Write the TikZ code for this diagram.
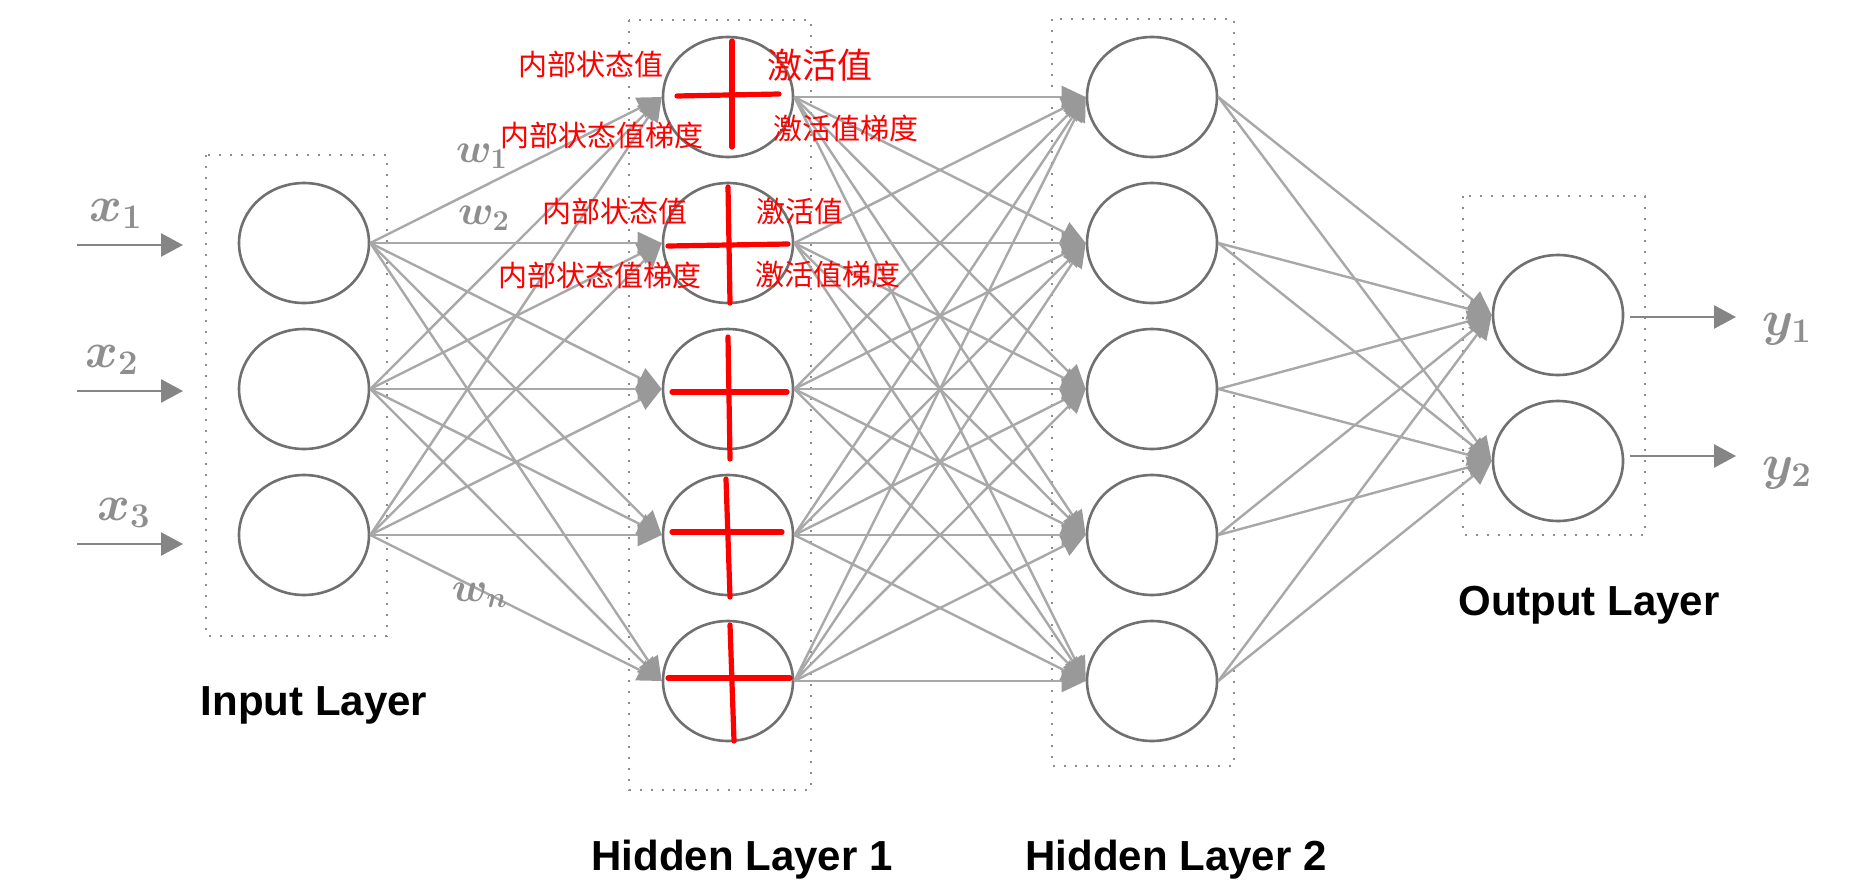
\documentclass[tikz,border=0pt]{standalone}
\usepackage{fontspec}
\setmainfont{Liberation Sans}
\newfontfamily\cjk{Noto Sans CJK SC}
\usetikzlibrary{arrows.meta,shapes.geometric}
\definecolor{nodegray}{HTML}{707070}
\definecolor{linegray}{HTML}{A8A8A8}
\definecolor{tipgray}{HTML}{999999}
\definecolor{boxgray}{HTML}{8C8C8C}
\definecolor{labgray}{HTML}{8E8E8E}
\definecolor{iogray}{HTML}{858585}
\definecolor{mred}{HTML}{FF0000}
\begin{document}
\begin{tikzpicture}[x=0.5pt,y=-0.5pt,
  neuron/.style={ellipse,draw=nodegray,line width=1.3pt,minimum width=65pt,minimum height=60pt,inner sep=0pt},
  layerbox/.style={draw=boxgray,line width=1.1pt,dash pattern=on 1.1pt off 4.4pt},
  conn/.style={draw=linegray,line width=1.2pt,-{Triangle[length=12pt,width=11pt,color=tipgray,fill=tipgray]}},
  ioarrow/.style={draw=iogray,line width=1.3pt,-{Triangle[length=11pt,width=11.5pt,color=iogray,fill=iogray]}},
  varlab/.style={text=labgray,inner sep=0pt,font=\boldmath\fontsize{24}{24}\selectfont},
  wlab/.style={text=labgray,inner sep=0pt,font=\boldmath\fontsize{22}{22}\selectfont},
  redtxt/.style={text=mred,inner sep=0pt,font=\cjk\fontsize{14.5}{14.5}\selectfont},
  redbig/.style={text=mred,inner sep=0pt,font=\cjk\fontsize{17.5}{17.5}\selectfont},
  redline/.style={draw=mred,line width=2.6pt,line cap=round},
  layerlab/.style={anchor=base,inner sep=0pt,font=\bfseries\fontsize{21}{21}\selectfont}]

\useasboundingbox[fill=white] (0,0) rectangle (1856,894);

% layer boxes
\draw[layerbox] (206,155) rectangle (387,636);
\draw[layerbox] (629,20) rectangle (811,790);
\draw[layerbox] (1052,19) rectangle (1234,766);
\draw[layerbox] (1463,196) rectangle (1645,535);

% neurons
\foreach \k/\y in {1/243,2/389,3/535}
  \node[neuron] (in\k) at (304,\y) {};
\foreach \k/\y in {1/97,2/243,3/389,4/535,5/681} {
  \node[neuron] (ha\k) at (728,\y) {};
  \node[neuron] (hb\k) at (1152,\y) {};
}
\node[neuron] (out1) at (1558,315) {};
\node[neuron] (out2) at (1558,461) {};

% connections
\foreach \i in {1,2,3}
  \foreach \j in {1,...,5}
    \draw[conn] (in\i.east) -- (ha\j.west);
\foreach \i in {1,...,5}
  \foreach \j in {1,...,5}
    \draw[conn] (ha\i.east) -- (hb\j.west);
\foreach \i in {1,...,5}
  \foreach \j in {1,2}
    \draw[conn] (hb\i.east) -- (out\j.west);

% input arrows
\coordinate (xa1) at (77,245);  \coordinate (xb1) at (183,245);
\coordinate (xa2) at (77,391);  \coordinate (xb2) at (183,391);
\coordinate (xa3) at (77,544);  \coordinate (xb3) at (183,544);
\foreach \k in {1,2,3} \draw[ioarrow] (xa\k) -- (xb\k);

% output arrows
\coordinate (ya1) at (1630,317); \coordinate (yb1) at (1736,317);
\coordinate (ya2) at (1630,456); \coordinate (yb2) at (1736,456);
\foreach \k in {1,2} \draw[ioarrow] (ya\k) -- (yb\k);

% variable labels
\node[varlab] (lx1) at (116,214) {$x_1$};
\node[varlab] (lx2) at (112,360) {$x_2$};
\node[varlab] (lx3) at (124,513) {$x_3$};
\node[wlab] (lw1) at (482,156) {$w_1$};
\node[wlab] (lw2) at (484,218) {$w_2$};
\node[wlab] (lwn) at (480,595) {$w_n$};
\node[varlab] (ly1) at (1787,329) {$y_1$};
\node[varlab] (ly2) at (1787,473) {$y_2$};

% red crosses
\draw[redline] (732,41) -- (732,147);
\draw[redline] (677,96) -- (779,94);
\draw[redline] (728,187) -- (730,303);
\draw[redline] (668,246) -- (788,244);
\draw[redline] (728,337) -- (730,459);
\draw[redline] (672,392) -- (787,392);
\draw[redline] (726,479) -- (730,597);
\draw[redline] (672,532) -- (782,532);
\draw[redline] (730,625) -- (734,741);
\draw[redline] (668,678) -- (790,678);

% red texts
\node[redtxt] (t1) at (591,64) {内部状态值};
\node[redtxt] (t2) at (602,135) {内部状态值梯度};
\node[redbig] (t3) at (820,65) {激活值};
\node[redtxt] (t4) at (846,128) {激活值梯度};
\node[redtxt] (t5) at (615,211) {内部状态值};
\node[redtxt] (t6) at (600,275) {内部状态值梯度};
\node[redtxt] (t7) at (800,211) {激活值};
\node[redtxt] (t8) at (828,274) {激活值梯度};

% layer labels
\node[layerlab] (lin) at (314,715) {Input Layer};
\node[layerlab] (lh1) at (742,870) {Hidden Layer 1};
\node[layerlab] (lh2) at (1176,870) {Hidden Layer 2};
\node[layerlab] (lout) at (1589,615) {Output Layer};
\end{tikzpicture}
\end{document}
